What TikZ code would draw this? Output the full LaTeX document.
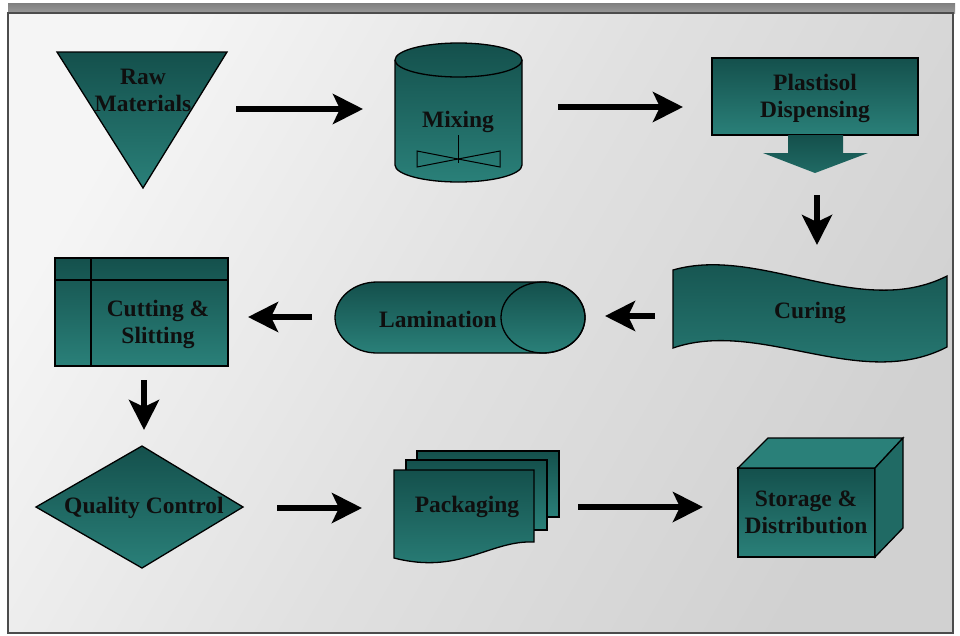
\documentclass[tikz,border=0pt]{standalone}
\usepackage{fontspec}
\setmainfont{Liberation Serif}
\usetikzlibrary{arrows.meta}
\definecolor{tealD}{RGB}{20,80,76}
\definecolor{tealL}{RGB}{42,128,121}
\definecolor{tealM}{RGB}{32,106,100}
\definecolor{txt}{RGB}{15,15,15}
\tikzset{
  shp/.style={draw=black, line width=1.3pt, top color=tealD, bottom color=tealL},
  lbl/.style={font=\fontsize{23.5}{27}\selectfont\bfseries, text=txt, align=center, inner sep=0pt},
  arr/.style={line width=5.5pt, -{Stealth[length=30pt,width=30pt,inset=7pt]}},
}
\begin{document}
\begin{tikzpicture}[x=1pt,y=1pt]
\useasboundingbox (0,0) rectangle (960,-635);
\fill[white] (0,0) rectangle (960,-635);
% frame
\shade[top color=black!50, bottom color=black!40] (8,-3) rectangle (955,-13);
\shade[left color=black!4, right color=black!18, middle color=black!12, shading angle=60] (8,-13) rectangle (953,-633);
\draw[black!70, line width=1.5pt] (8,-13) rectangle (953,-633);

% Raw materials triangle
\path[shp] (57,-52) -- (227,-52) -- (143,-188) -- cycle;
\node[lbl] (raw) at (143,-90) {Raw\\Materials};

% Mixing cylinder
\path[shp] (395,-60) -- (395,-165) arc[start angle=180,end angle=360,x radius=63.5pt,y radius=17pt]
  -- (522,-60) arc[start angle=0,end angle=180,x radius=63.5pt,y radius=17pt] -- cycle;
\draw[line width=1.3pt] (395,-60) arc[start angle=180,end angle=360,x radius=63.5pt,y radius=17pt];
\draw[line width=1pt] (458,-135) -- (458,-163);
\draw[line width=1pt] (417,-151) -- (417,-167) -- (458,-159) -- cycle;
\draw[line width=1pt] (500,-151) -- (500,-167) -- (458,-159) -- cycle;
\node[lbl] (mix) at (458,-122) {Mixing};

% Plastisol dispensing
\path[shp] (712,-58) rectangle (918,-135);
\shade[top color=tealD, bottom color=tealM] (788,-135) -- (788,-153) -- (763,-153) -- (815,-173) -- (868,-153) -- (843,-153) -- (843,-135) -- cycle;
\node[lbl] (plast) at (815,-98) {Plastisol\\Dispensing};

% Curing
\path[shp] (673,-270) .. controls (760,-245) and (860,-320) .. (947,-276) -- (947,-347)
  .. controls (860,-392) and (760,-318) .. (673,-348) -- cycle;
\node[lbl] (cur) at (810,-313) {Curing};

% Lamination
\path[shp] (377,-282) -- (543,-282) arc[start angle=90,end angle=-90,x radius=42pt,y radius=35.5pt]
  -- (377,-353) arc[start angle=270,end angle=90,x radius=42pt,y radius=35.5pt] -- cycle;
\draw[line width=1.3pt] (543,-317.5) ellipse [x radius=42pt, y radius=35.5pt];
\node[lbl] (lam) at (438,-319) {Lamination};

% Cutting & slitting
\path[shp] (55,-258) rectangle (228,-366);
\draw[line width=1.3pt] (55,-280) -- (228,-280) (91,-258) -- (91,-366);
\node[lbl] (cut) at (158,-324) {Cutting \&\\Slitting};

% Quality control
\path[shp] (36,-507) -- (142,-446) -- (243,-507) -- (142,-568) -- cycle;
\node[lbl] (qc) at (144,-508) {Quality Control};

% Packaging
\path[shp] (417,-451) -- (559,-451) -- (559,-517) -- (417,-517) -- cycle;
\path[shp] (406,-460) -- (547,-460) -- (547,-530) -- (406,-530) -- cycle;
\path[shp] (394,-470) -- (534,-470) -- (534,-542) .. controls (490,-540) and (460,-575) .. (394,-558) -- cycle;
\node[lbl] (pack) at (467,-507) {Packaging};

% Storage box
\path[shp] (738,-468) rectangle (875,-557);
\path[draw=black, line width=1.3pt, fill=tealL] (738,-468) -- (768,-438) -- (903,-438) -- (875,-468) -- cycle;
\path[draw=black, line width=1.3pt, fill=tealM] (875,-468) -- (903,-438) -- (903,-528) -- (875,-557) -- cycle;
\node[lbl] (stor) at (806,-512) {Storage \&\\Distribution};

% connectors
\coordinate (a1s) at (236,-109); \coordinate (a1e) at (363,-109);
\coordinate (a2s) at (558,-107); \coordinate (a2e) at (683,-107);
\coordinate (a3s) at (817,-195); \coordinate (a3e) at (817,-245);
\coordinate (a4s) at (655,-316); \coordinate (a4e) at (605,-316);
\coordinate (a5s) at (312,-317); \coordinate (a5e) at (248,-317);
\coordinate (a6s) at (144,-380); \coordinate (a6e) at (144,-430);
\coordinate (a7s) at (277,-508); \coordinate (a7e) at (362,-508);
\coordinate (a8s) at (578,-507); \coordinate (a8e) at (703,-507);
\foreach \i in {1,...,8} { \draw[arr] (a\i s) -- (a\i e); }
\end{tikzpicture}
\end{document}
